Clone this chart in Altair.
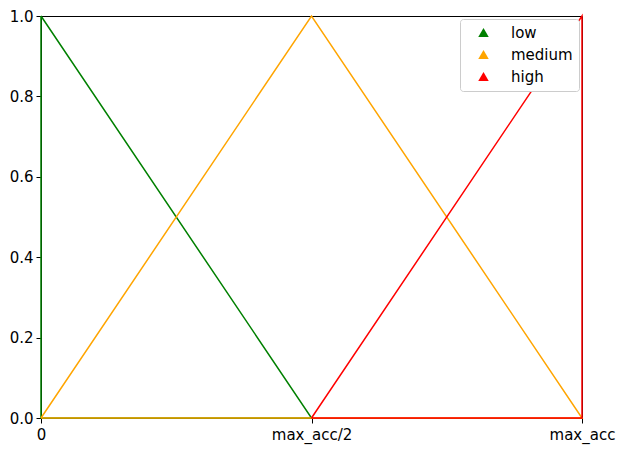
import altair as alt
import pandas as pd

series = ["low", "medium", "high"]
colors = ["#008000", "#FFA500", "#FF0000"]
low_x = [0, 0.5, 0, 0]
low_y = [1, 0, 0, 1]
med_x = [0, 0.5, 1, 0]
med_y = [0, 1, 0, 0]
high_x = [0.5, 1, 1, 0.5]
high_y = [0, 1, 0, 0]
tick_vals = [0, 0.5, 1]
tick_labels = ["0", "max_acc/2", "max_acc"]

rows = []
for name, xs, ys in [("low", low_x, low_y), ("medium", med_x, med_y), ("high", high_x, high_y)]:
    for i, (xv, yv) in enumerate(zip(xs, ys)):
        rows.append({"series": name, "x": xv, "y": yv, "i": i})
df = pd.DataFrame(rows)

label_expr = "datum.value == 0 ? '0' : datum.value == 0.5 ? 'max_acc/2' : 'max_acc'"

xenc = alt.X("x:Q", scale=alt.Scale(domain=[0, 1], nice=False),
             axis=alt.Axis(values=tick_vals, labelExpr=label_expr, title=None, grid=False,
                           labelFontSize=15, labelFont="DejaVu Sans", labelColor="black",
                           labelFlush=False,
                           tickColor="black", domainColor="black", tickSize=5, labelPadding=4))
yenc = alt.Y("y:Q", scale=alt.Scale(domain=[0, 1], nice=False),
             axis=alt.Axis(values=[0, 0.2, 0.4, 0.6, 0.8, 1.0], format=".1f", title=None, grid=False,
                           labelFontSize=15, labelFont="DejaVu Sans", labelColor="black",
                           labelFlush=False,
                           tickColor="black", domainColor="black", tickSize=5, labelPadding=3))
cenc = alt.Color("series:N", scale=alt.Scale(domain=series, range=colors),
                 legend=alt.Legend(title=None, orient="top-right", symbolType="triangle-up",
                                   symbolOpacity=1, symbolStrokeWidth=0, symbolSize=110,
                                   labelFontSize=15, labelFont="DejaVu Sans", labelColor="black",
                                   fillColor="white", strokeColor="#cccccc", padding=6,
                                   symbolOffset=10, cornerRadius=3, offset=3, rowPadding=6,
                                   labelOffset=20))

base = alt.Chart(df).encode(x=xenc, y=yenc, color=cenc)
pts = base.mark_point(shape="triangle-up", filled=True, opacity=0)
lines = base.mark_line(strokeWidth=1.5).encode(detail="series:N", order="i:Q")

chart = alt.layer(pts, lines).properties(
    width=541, height=402,
    autosize=alt.AutoSizeParams(type="none"),
    padding={"left": 33, "top": 8, "right": 34, "bottom": 30},
).configure_view(stroke="black", strokeWidth=1)

chart.save("out.html", embed_options={"renderer": "svg", "actions": False})
